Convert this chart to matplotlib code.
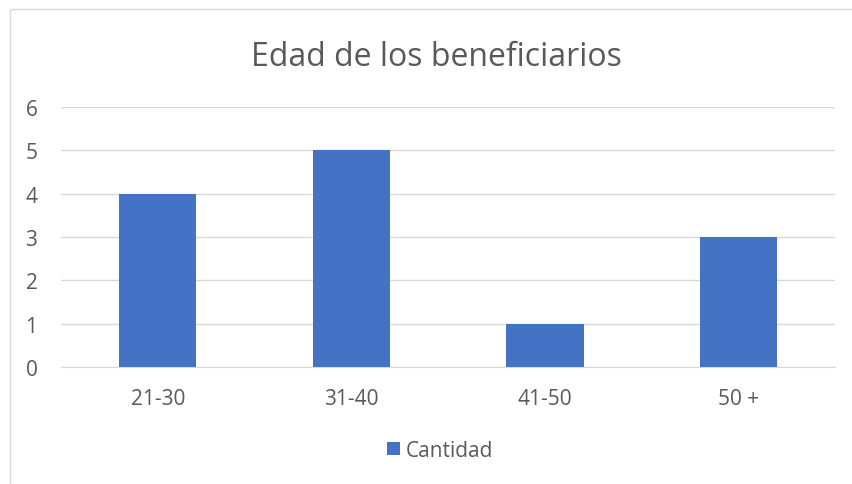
import matplotlib
matplotlib.use('Agg')
import matplotlib.pyplot as plt
from matplotlib.patches import Rectangle

categories = ['21-30', '31-40', '41-50', '50 +']
cantidad = [4, 5, 1, 3]
y_ticks = [0, 1, 2, 3, 4, 5, 6]

BAR_COLOR = '#4472C4'
TEXT_COLOR = '#595959'
GRID_COLOR = '#D9D9D9'

plt.rcParams['font.family'] = ['Open Sans', 'DejaVu Sans']

fig = plt.figure(figsize=(8.53, 4.85), dpi=100)
ax = fig.add_axes([0.0715, 0.2412, 0.9075, 0.5361])

x = range(len(categories))
ax.bar(x, cantidad, width=0.4, color=BAR_COLOR, label='Cantidad', zorder=3)

ax.set_xlim(-0.5, len(categories) - 0.5)
ax.set_ylim(0, 6)
ax.set_yticks(y_ticks)
ax.set_xticks(list(x))
ax.set_xticklabels(categories)
ax.tick_params(axis='both', length=0, labelsize=15, colors=TEXT_COLOR)
ax.tick_params(axis='x', pad=15)
ax.tick_params(axis='y', pad=17)
ax.grid(True, axis='y', color=GRID_COLOR, linewidth=1, zorder=0)
for s in ['top', 'right', 'left']:
    ax.spines[s].set_visible(False)
ax.spines['bottom'].set_color(GRID_COLOR)

fig.text(0.512, 0.881, 'Edad de los beneficiarios', ha='center', va='center',
         fontsize=23, color=TEXT_COLOR)

fig.legend(loc='center', bbox_to_anchor=(0.516, 0.07), frameon=False,
           fontsize=15, labelcolor=TEXT_COLOR, handlelength=0.6, handleheight=0.6,
           handletextpad=0.3)

# chart-area border
fig.patches.append(Rectangle((9.5 / 853, -0.01), 1.0, 1 - 10 / 485 + 0.01,
                             transform=fig.transFigure, fill=False,
                             edgecolor='#D9D9D9', linewidth=1))

fig.savefig('out.png', dpi=100)
